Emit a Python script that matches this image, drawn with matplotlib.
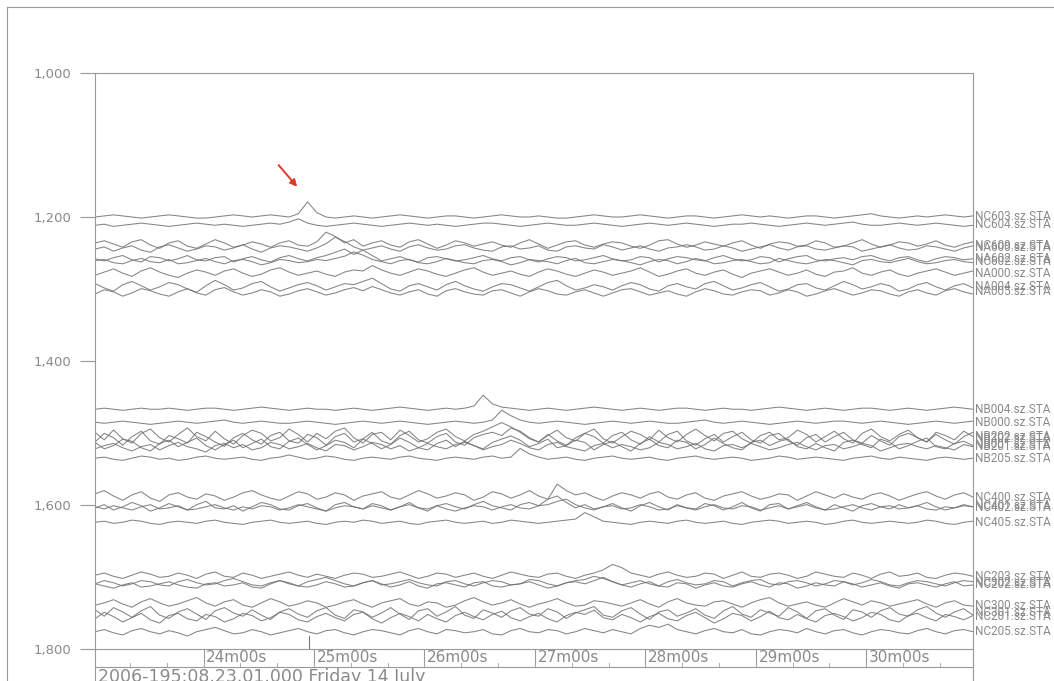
import numpy as np
import matplotlib.pyplot as plt
from matplotlib.lines import Line2D

# record window: seconds after 08:23:01
t_end = 477
minute_ticks = [59, 119, 179, 239, 299, 359, 419]
minute_labels = ["24m00s", "25m00s", "26m00s", "27m00s", "28m00s", "29m00s", "30m00s"]
minor_ticks = list(range(19, 477, 20))
start_label = "2006-195:08.23.01.000 Friday 14 July"

y_ticks = [1000, 1200, 1400, 1600, 1800]
y_ticklabels = ["1,000", "1,200", "1,400", "1,600", "1,800"]

# station names and trace offsets
stations = ["NC603", "NC604", "NC609", "NA600", "NA602", "NC602", "NA000", "NA004", "NA005",
            "NB004", "NB000", "NB202", "NB302", "NB001", "NB201", "NB205",
            "NC400", "NC401", "NC402", "NC405",
            "NC203", "NC302", "NC202", "NC300", "NC301", "NC201", "NC205"]
offsets = [1200, 1210, 1239, 1243, 1258, 1262, 1278, 1297, 1304,
           1467, 1485, 1505, 1508, 1516, 1519, 1535,
           1589, 1601, 1604, 1624,
           1699, 1708, 1711, 1739, 1750, 1755, 1776]

# trace amplitudes, 5 s samples
NC603 = [0,1,2,1,0,-1,0,1, 2,1,0,-1,-1,0,1,2, 1,0,1,2,1,0,3,14, 4,0,-1,0,1,0,-1,0, 1,2,1,0,-1,0,1,1, 0,-1,0,1,2,1,0,0,
         1,0,-1,-1,0,1,2,1, 0,0,1,2,1,0,-1,0, 1,1,0,-1,0,1,2,1, 0,1,0,-1,0,1,1,0, -1,0,1,2,3,1,0,-1, 0,1,0,1,2,1,0,1]
NC604 = [-1,0,-2,-1,0,1,0,-1, -2,-1,0,1,0,-1,0,-1, -2,-1,0,1,0,2,5,1, -1,-2,-1,0,1,0,-1,-2, -1,0,1,0,-1,0,-1,-2, -1,0,1,1,0,-1,-2,-1,
         0,1,0,-1,-1,0,1,0, -1,-2,-1,0,1,0,-1,0, 1,0,-1,-2,-1,0,0,1, 0,-1,-2,-1,0,1,0,-1, 0,1,2,0,-1,-1,0,1, 0,-1,0,1,0,-1,-2,-1]
NC609 = [2,4,1,-2,3,5,0,-3, 2,4,-1,-3,1,5,2,-2, 0,3,1,-2,2,4,0,-1, 3,12,8,2,5,-1,2,4, 0,-2,3,5,1,-3,0,4, 2,-1,1,3,0,-2,2,5,
         1,-3,0,3,4,0,-2,1, 3,2,-1,-3,0,4,5,1, -2,0,3,1,-1,2,4,0, -3,1,3,2,-1,0,4,2, -2,-1,2,5,1,-2,0,3, 2,-1,1,4,0,-2,1,3]
NA600 = [-1,1,-3,0,2,-2,-4,1, 3,0,-3,-1,2,1,-2,0, 3,-1,-4,0,2,1,-1,-3, 0,4,10,6,1,-2,0,2, -1,-3,1,3,0,-2,-1,2, 3,0,-2,-3,1,2,-1,0,
         2,-2,-3,1,2,0,-1,3, 1,-2,0,2,-1,-3,0,1, 3,1,-2,-1,2,0,-3,-1, 1,3,0,-2,1,2,-1,-2, 0,2,1,-3,-1,1,3,0, -2,-1,2,1,-1,-3,0,2]
NA602 = [0,-2,1,3,-1,-3,2,1, -2,0,3,-1,-2,1,2,-3, 0,2,-1,-3,1,3,0,-2, 1,3,6,9,4,8,3,-2, 0,2,-1,-3,1,2,0,-2, -1,1,3,0,-2,1,2,-1,
         -3,0,2,1,-2,-1,1,3, 0,-2,-1,2,1,-3,0,2, 1,-1,-2,1,3,0,-2,-1, 2,1,-3,0,2,3,-1,-2, 0,1,-1,2,3,0,-2,1, 2,-1,-3,0,2,1,-1,0]
NC602 = [1,2,-1,-2,1,3,0,-1, 2,-2,-1,1,3,0,-2,1, 2,0,-3,-1,2,1,-1,0, 2,1,3,5,9,6,2,0, -2,1,2,-1,-2,0,3,1, -1,-2,1,2,0,-3,-1,2,
         1,0,-2,1,3,-1,-2,0, 2,1,-1,-3,0,2,1,-2, 0,3,1,-2,-1,1,2,0, -2,-1,3,1,-1,-2,0,2, 1,-1,-3,1,2,0,-1,1, 3,0,-2,-1,1,2,0,-1]
NA000 = [-2,1,4,0,-3,2,5,1, -2,-4,0,3,1,-2,2,4, 0,-3,-1,3,5,1,-2,0, 2,-1,-3,1,3,2,7,3, 0,-2,1,4,2,-1,-3,0, 3,5,1,-2,0,2,-1,-3,
         1,4,2,-1,-3,0,3,1, -2,0,2,5,1,-3,-1,2, 4,0,-2,1,3,-1,-4,0, 2,4,1,-2,0,3,-1,-3, 1,2,5,0,-2,1,3,-1, -3,0,2,4,1,-2,0,2]
NA004 = [3,-1,-4,2,5,1,-3,0, 4,2,-2,-5,1,6,2,-3, -1,3,5,0,-4,-1,2,4, 1,-3,0,3,2,5,8,3, -2,-4,1,3,0,-3,2,5, 1,-2,-4,0,3,2,-1,-4,
         0,4,6,1,-3,-1,2,0, -3,1,4,2,-2,-4,1,3, 0,-2,3,5,1,-3,-1,2, 4,0,-4,-2,2,3,-1,-3, 1,5,2,-2,0,3,1,-4, -2,2,4,0,-3,1,3,-1]
NA005 = [-2,2,0,-4,-1,3,1,-2, -4,0,3,-1,-3,2,4,0, -3,-1,2,0,-4,-2,1,3, 0,-3,-1,2,4,1,5,2, -1,-3,0,2,-2,-4,1,3, 0,-2,-3,1,2,-1,-4,0,
         3,1,-2,-3,0,2,-1,-4, -1,2,3,0,-3,-1,1,-2, -4,0,3,1,-2,-3,0,2, 1,-3,-1,2,0,-4,-2,1, 3,0,-3,-1,2,1,-2,-4, 0,2,-1,-3,1,3,0,-2]
NB004 = [0,1,0,-1,0,1,0,0, 1,0,-1,0,1,1,0,-1, 0,1,2,1,0,-1,0,1, 0,0,-1,0,1,0,-1,0, 1,2,1,0,-1,0,1,0, 1,3,13,5,2,1,0,-1,
         0,1,0,-1,0,1,2,1, 0,-1,0,1,0,-1,0,1, 1,0,-1,0,1,0,0,-1, 0,1,2,1,0,-1,0,1, 0,-1,0,1,1,0,-1,0, 1,0,-1,0,1,2,1,0]
NB000 = [0,-1,0,1,0,-1,-2,-1, 0,1,0,-1,0,1,2,0, -1,0,1,0,-1,-1,0,1, 0,-1,-2,-1,0,1,0,-1, 0,1,0,-1,-2,-1,0,1, 0,-1,0,2,11,6,2,0,
         -1,0,1,0,-1,-2,-1,0, 1,0,-1,0,1,0,-1,-1, 0,1,2,0,-1,0,1,0, -1,-2,-1,0,1,0,-1,0, 1,1,0,-1,0,1,0,-1, -2,-1,0,1,0,-1,0,1]
NB202 = [4,-3,6,-2,-6,3,7,-1, -5,2,8,0,-4,5,-2,-7, 1,6,3,-4,-1,7,2,-5, 3,-2,5,8,-1,-6,2,4, -3,6,1,-5,-2,4,7,0, -4,2,5,9,13,9,4,-2,
         -5,1,6,-1,-4,3,7,-2, -6,0,5,2,-3,6,-1,-5, 2,7,1,-4,3,5,-2,-6, 1,4,-3,-1,6,2,-5,0, 5,-2,-6,3,7,0,-4,2, 6,-1,-5,4,1,-3,5,0]
NB302 = [-3,5,1,-6,2,7,-2,-5, 3,0,-4,6,2,-3,-7,1, 5,-1,-5,3,6,-2,-4,4, 1,-6,2,5,-3,0,6,-2, -5,3,7,-1,-4,2,5,-3, -6,1,4,6,3,10,7,1,
         -3,4,-2,-6,1,5,2,-4, 3,6,-1,-5,2,-3,4,7, -2,-6,0,4,-3,2,6,-1, -4,3,5,-2,-6,1,4,-3, 2,6,-1,-4,3,-2,-6,2, 5,1,-3,4,-1,-5,2,6]
NB001 = [2,-4,-1,5,3,-3,-6,1, 4,-2,2,6,-1,-5,0,4, -3,1,5,-2,-4,3,6,0, -5,-1,4,2,-3,5,1,-4, 0,6,2,-3,-5,1,4,-2, 3,-1,-4,2,5,8,4,-2,
         1,5,-3,-1,4,2,-5,0, 3,-2,-6,1,5,-1,-3,4, 2,-4,0,6,1,-3,-5,2, 4,-1,3,5,-2,-4,1,-3, -6,2,4,0,-3,5,2,-4, -1,3,6,-2,-4,1,3,-1]
NB201 = [-2,1,3,-1,-4,0,2,-3, 1,4,0,-2,-5,1,3,-1, 2,-3,-1,4,2,-2,0,3, -1,-4,2,1,-3,0,4,2, -2,1,-4,-1,3,0,-2,2, 4,1,-3,0,2,6,3,-1,
         -3,2,4,0,-2,-4,1,3, -1,2,0,-3,-1,4,2,-2, 0,3,-2,-4,1,2,-1,3, 0,-3,-1,2,4,0,-3,1, 2,-2,0,3,1,-4,-1,2, 3,0,-2,1,-1,-3,2,0]
NB205 = [0,1,-1,-2,0,2,1,-1, 0,-2,-1,1,2,0,-1,0, 1,-1,-2,0,1,3,1,-1, 0,2,1,-1,-2,0,1,0, -1,1,2,0,-1,-2,0,1, 0,-1,1,2,0,1,9,4,
         1,-1,0,1,-1,-2,0,1, 2,0,-1,0,1,-1,-2,0, 1,2,0,-1,0,1,0,-2, -1,0,2,1,-1,0,1,0, -1,-2,0,1,2,0,-1,1, 0,-1,-2,0,1,0,-1,0]
NC400 = [3,6,1,-3,2,5,-1,-4, 2,4,0,-2,3,1,-3,0, 4,6,2,-1,-3,1,5,3, -2,0,4,2,-3,1,3,5, 0,-2,2,6,3,-1,1,4, 2,-3,0,5,3,-1,2,6,
         1,-2,12,6,2,4,0,-3, 1,4,2,-1,3,5,0,-2, 2,4,-1,-3,1,3,5,1, -2,0,3,2,-3,1,5,2, -1,3,0,-2,2,4,1,-3, 0,3,5,1,-2,2,4,0]
NC401 = [-2,1,-4,-1,3,0,-5,-2, 2,-1,-4,1,4,-2,-3,0, -5,-1,3,1,-3,-4,0,2, -2,-5,1,3,-1,-3,2,0, -4,-1,3,-2,-5,0,2,-1, -3,1,4,0,-2,-4,1,3,
         0,6,9,3,-2,1,-3,-1, 2,-2,-5,0,3,-1,-4,1, -2,-3,2,0,-4,-1,3,-2, -5,1,2,-3,0,3,-1,-4, 1,-2,-5,0,2,-1,-3,1, -2,0,3,-1,-4,-2,1,-1]
NC402 = [1,-1,2,0,-2,1,3,-1, 0,2,-2,-1,1,3,0,-2, 1,-1,2,1,-2,0,3,1, -1,-3,0,2,1,-1,2,0, -2,1,3,0,-1,2,-1,-3, 0,2,1,-2,1,3,0,-1,
         2,3,6,8,3,0,-2,1, 2,-1,0,3,1,-2,-1,2, 0,-2,1,3,0,-1,2,1, -2,0,2,-1,1,3,0,-2, -1,1,3,0,-2,1,2,-1, 0,2,-1,-2,1,0,2,1]
NC405 = [0,1,-1,0,2,1,-1,-2, 0,1,0,-1,1,2,0,-1, -2,0,1,2,0,-1,0,1, -1,-2,0,1,0,2,1,-1, 0,1,-1,-2,0,1,2,0, -1,0,1,-1,0,2,1,0,
         -1,0,1,2,3,9,5,1, 0,-1,-2,0,1,0,-1,1, 2,0,-1,0,1,-1,-2,0, 1,2,1,-1,0,1,0,-2, -1,1,2,0,-1,0,1,0, -1,0,2,1,-1,-2,0,1]
NC203 = [1,3,0,-2,1,4,2,-1, 0,3,1,-2,2,4,0,-1, 3,1,-2,0,2,4,1,-1, 2,0,-2,1,3,2,-1,0, 2,4,1,-2,0,3,2,-1, 1,3,0,-2,1,4,2,0,
         -1,2,3,0,-2,1,3,6, 11,8,3,1,-1,2,4,1, -1,0,3,2,-2,1,4,0, -1,2,3,1,-2,0,4,2, 0,-1,3,1,-2,2,4,0, 1,3,-1,-2,1,3,2,0]
NC302 = [-1,2,0,-3,-1,2,1,-2, -3,1,3,0,-2,-1,2,4, 1,-2,-3,0,2,-1,-3,1, 3,5,2,-1,-3,0,2,-2, -1,1,3,0,-2,-3,1,2, -1,-3,0,2,1,-2,-1,3,
         2,-1,-3,0,2,3,6,4, 1,-2,0,2,-1,-3,1,3, 0,-2,-1,2,1,-3,0,2, 3,-1,-2,1,2,0,-3,-1, 2,1,-2,0,3,1,-2,-3, 0,2,1,-1,-3,0,2,1]
NC202 = [1,-1,-3,0,2,-2,-1,1, 3,0,-2,-3,1,2,-1,0, 2,-2,-3,1,4,2,-1,-2, 0,3,1,-2,-1,2,4,1, -2,0,3,-1,-3,1,2,0, -2,2,3,-1,-2,0,1,3,
         0,-3,-1,2,3,1,4,7, 3,0,-2,1,3,-1,-2,2, 1,-3,0,2,-1,-2,1,3, 0,-2,2,1,-3,-1,2,0, -1,3,1,-2,0,2,-1,-3, 1,2,0,-2,1,3,-1,0]
NC300 = [0,2,5,1,-2,3,6,2, -1,1,4,7,2,-1,3,5, 0,-2,2,6,3,-1,1,4, 2,-2,0,3,5,1,-2,2, 4,6,1,-1,3,2,-2,0, 4,7,3,0,2,5,1,-2,
         1,3,6,2,-1,0,4,3, 1,-1,2,5,1,-2,3,6, 2,0,-1,3,4,1,-2,2, 5,7,2,-1,1,3,0,-2, 2,6,3,0,4,2,-1,1, 3,5,1,-2,2,4,0,-1]
NC301 = [3,-3,5,1,-4,2,6,-2, -5,1,4,-1,-6,2,5,0, -3,3,-2,-6,1,4,-1,-4, 2,5,-2,-5,3,1,-4,0, 5,-1,-6,2,4,-3,1,6, -2,-5,3,0,-4,2,5,-1,
         -3,4,1,-5,0,3,6,-2, -4,2,5,-1,-6,1,3,-3, 0,4,-2,-5,2,6,-1,-4, 3,0,-3,5,1,-5,2,4, -2,-6,3,1,-4,2,5,-1, -3,3,6,0,-4,1,4,-2]
NC201 = [-2,4,0,-5,-1,3,-3,-6, 1,3,-2,-4,2,0,-5,-2, 3,1,-4,-1,4,2,-3,-5, 0,3,-1,-4,2,4,-2,-6, -1,3,0,-4,2,-2,-5,1, 4,0,-3,2,5,-1,-4,0,
         3,-2,-5,1,4,2,6,-1, -3,2,-1,-5,0,3,-2,-4, 1,4,-1,-6,-2,3,1,-4, 0,5,-1,-3,2,-2,-5,1, 3,0,-4,-1,4,2,-3,-5, 1,3,-1,-4,2,0,-3,1]
NC205 = [0,2,-1,-3,1,3,0,-2, 1,-1,-4,0,2,4,1,-2, -1,2,0,-3,-1,1,3,0, -2,1,2,-1,-3,0,2,1, -1,-3,1,3,0,-2,2,1, -1,0,2,-2,-3,1,3,0,
         -1,2,1,-2,0,3,1,-1, 2,0,-2,3,6,4,7,2, 0,-2,1,3,0,-1,2,-2, -3,0,2,1,-1,3,0,-2, 1,2,-1,-3,0,2,1,-1, -2,1,3,0,-2,1,2,0]

traces = [NC603, NC604, NC609, NA600, NA602, NC602, NA000, NA004, NA005,
          NB004, NB000, NB202, NB302, NB001, NB201, NB205,
          NC400, NC401, NC402, NC405,
          NC203, NC302, NC202, NC300, NC301, NC201, NC205]

pick_time = 116
arrow_tip = (110.8, 1161)
arrow_tail = (98.8, 1125)

W, H = 1054, 681
gain = 1.5
grey = "#8a8a8a"
trace_col = "#6e6e6e"

fig = plt.figure(figsize=(W / 100, H / 100), dpi=100)
ax = fig.add_axes([95 / W, 1 - 649 / H, (973 - 95) / W, (649 - 73) / H])

for name, off, w in zip(stations, offsets, traces):
    w = np.asarray(w, dtype=float)
    t = np.linspace(0, t_end, len(w))
    ax.plot(t, off - gain * w, color=trace_col, lw=0.75, alpha=0.85)
    ax.text(1 + 2 / 878, off, name + ".sz.STA", transform=ax.get_yaxis_transform(),
            ha="left", va="center", fontsize=8.5, color=grey, clip_on=False,
            family=["Roboto", "DejaVu Sans"])

ax.set_xlim(0, t_end)
ax.set_ylim(1800, 1000)
ax.set_yticks(y_ticks)
ax.set_yticklabels(y_ticklabels)
ax.set_xticks([])
ax.tick_params(axis="y", length=10.8, width=0.8, color="#999999",
               labelcolor=grey, labelsize=9.5, pad=6)
for s in ax.spines.values():
    s.set_color("#999999")
    s.set_linewidth(0.8)

# pick mark near the bottom
ax.plot([pick_time, pick_time], [1782, 1800], color="#777777", lw=0.8)

# arrow pointing at the first arrival
ax.annotate("", xy=arrow_tip, xytext=arrow_tail,
            arrowprops=dict(arrowstyle="-|>", color="#e0392b", lw=1.4, mutation_scale=10))

# time strip under the axes
trans = ax.get_xaxis_transform()
strip = -(667 - 649) / 576
for t0, lab in zip(minute_ticks, minute_labels):
    ax.plot([t0, t0], [0, strip], transform=trans, color="#999999", lw=0.8, clip_on=False)
    ax.text(t0 + 1.5, strip / 2, lab, transform=trans, ha="left", va="center",
            fontsize=11, color=grey, clip_on=False)
for t0 in minor_ticks:
    ax.plot([t0, t0], [strip, strip + 4 / 576], transform=trans, color="#aaaaaa",
            lw=0.7, clip_on=False)

fig.add_artist(Line2D([95 / W, 973 / W], [1 - 667 / H] * 2, color="#999999", lw=0.8))
fig.add_artist(Line2D([95 / W] * 2, [0, 1 - 649 / H], color="#999999", lw=0.8))
fig.add_artist(Line2D([973 / W] * 2, [0, 1 - 649 / H], color="#999999", lw=0.8))
fig.text(98 / W, 1 - 668 / H, start_label, ha="left", va="top", fontsize=12.5, color=grey)

# page frame
fig.add_artist(Line2D([7 / W, 7 / W], [0, 1 - 7 / H], color="#999999", lw=0.8))
fig.add_artist(Line2D([7 / W, 1], [1 - 7 / H] * 2, color="#999999", lw=0.8))

fig.savefig("out.png", dpi=100)
